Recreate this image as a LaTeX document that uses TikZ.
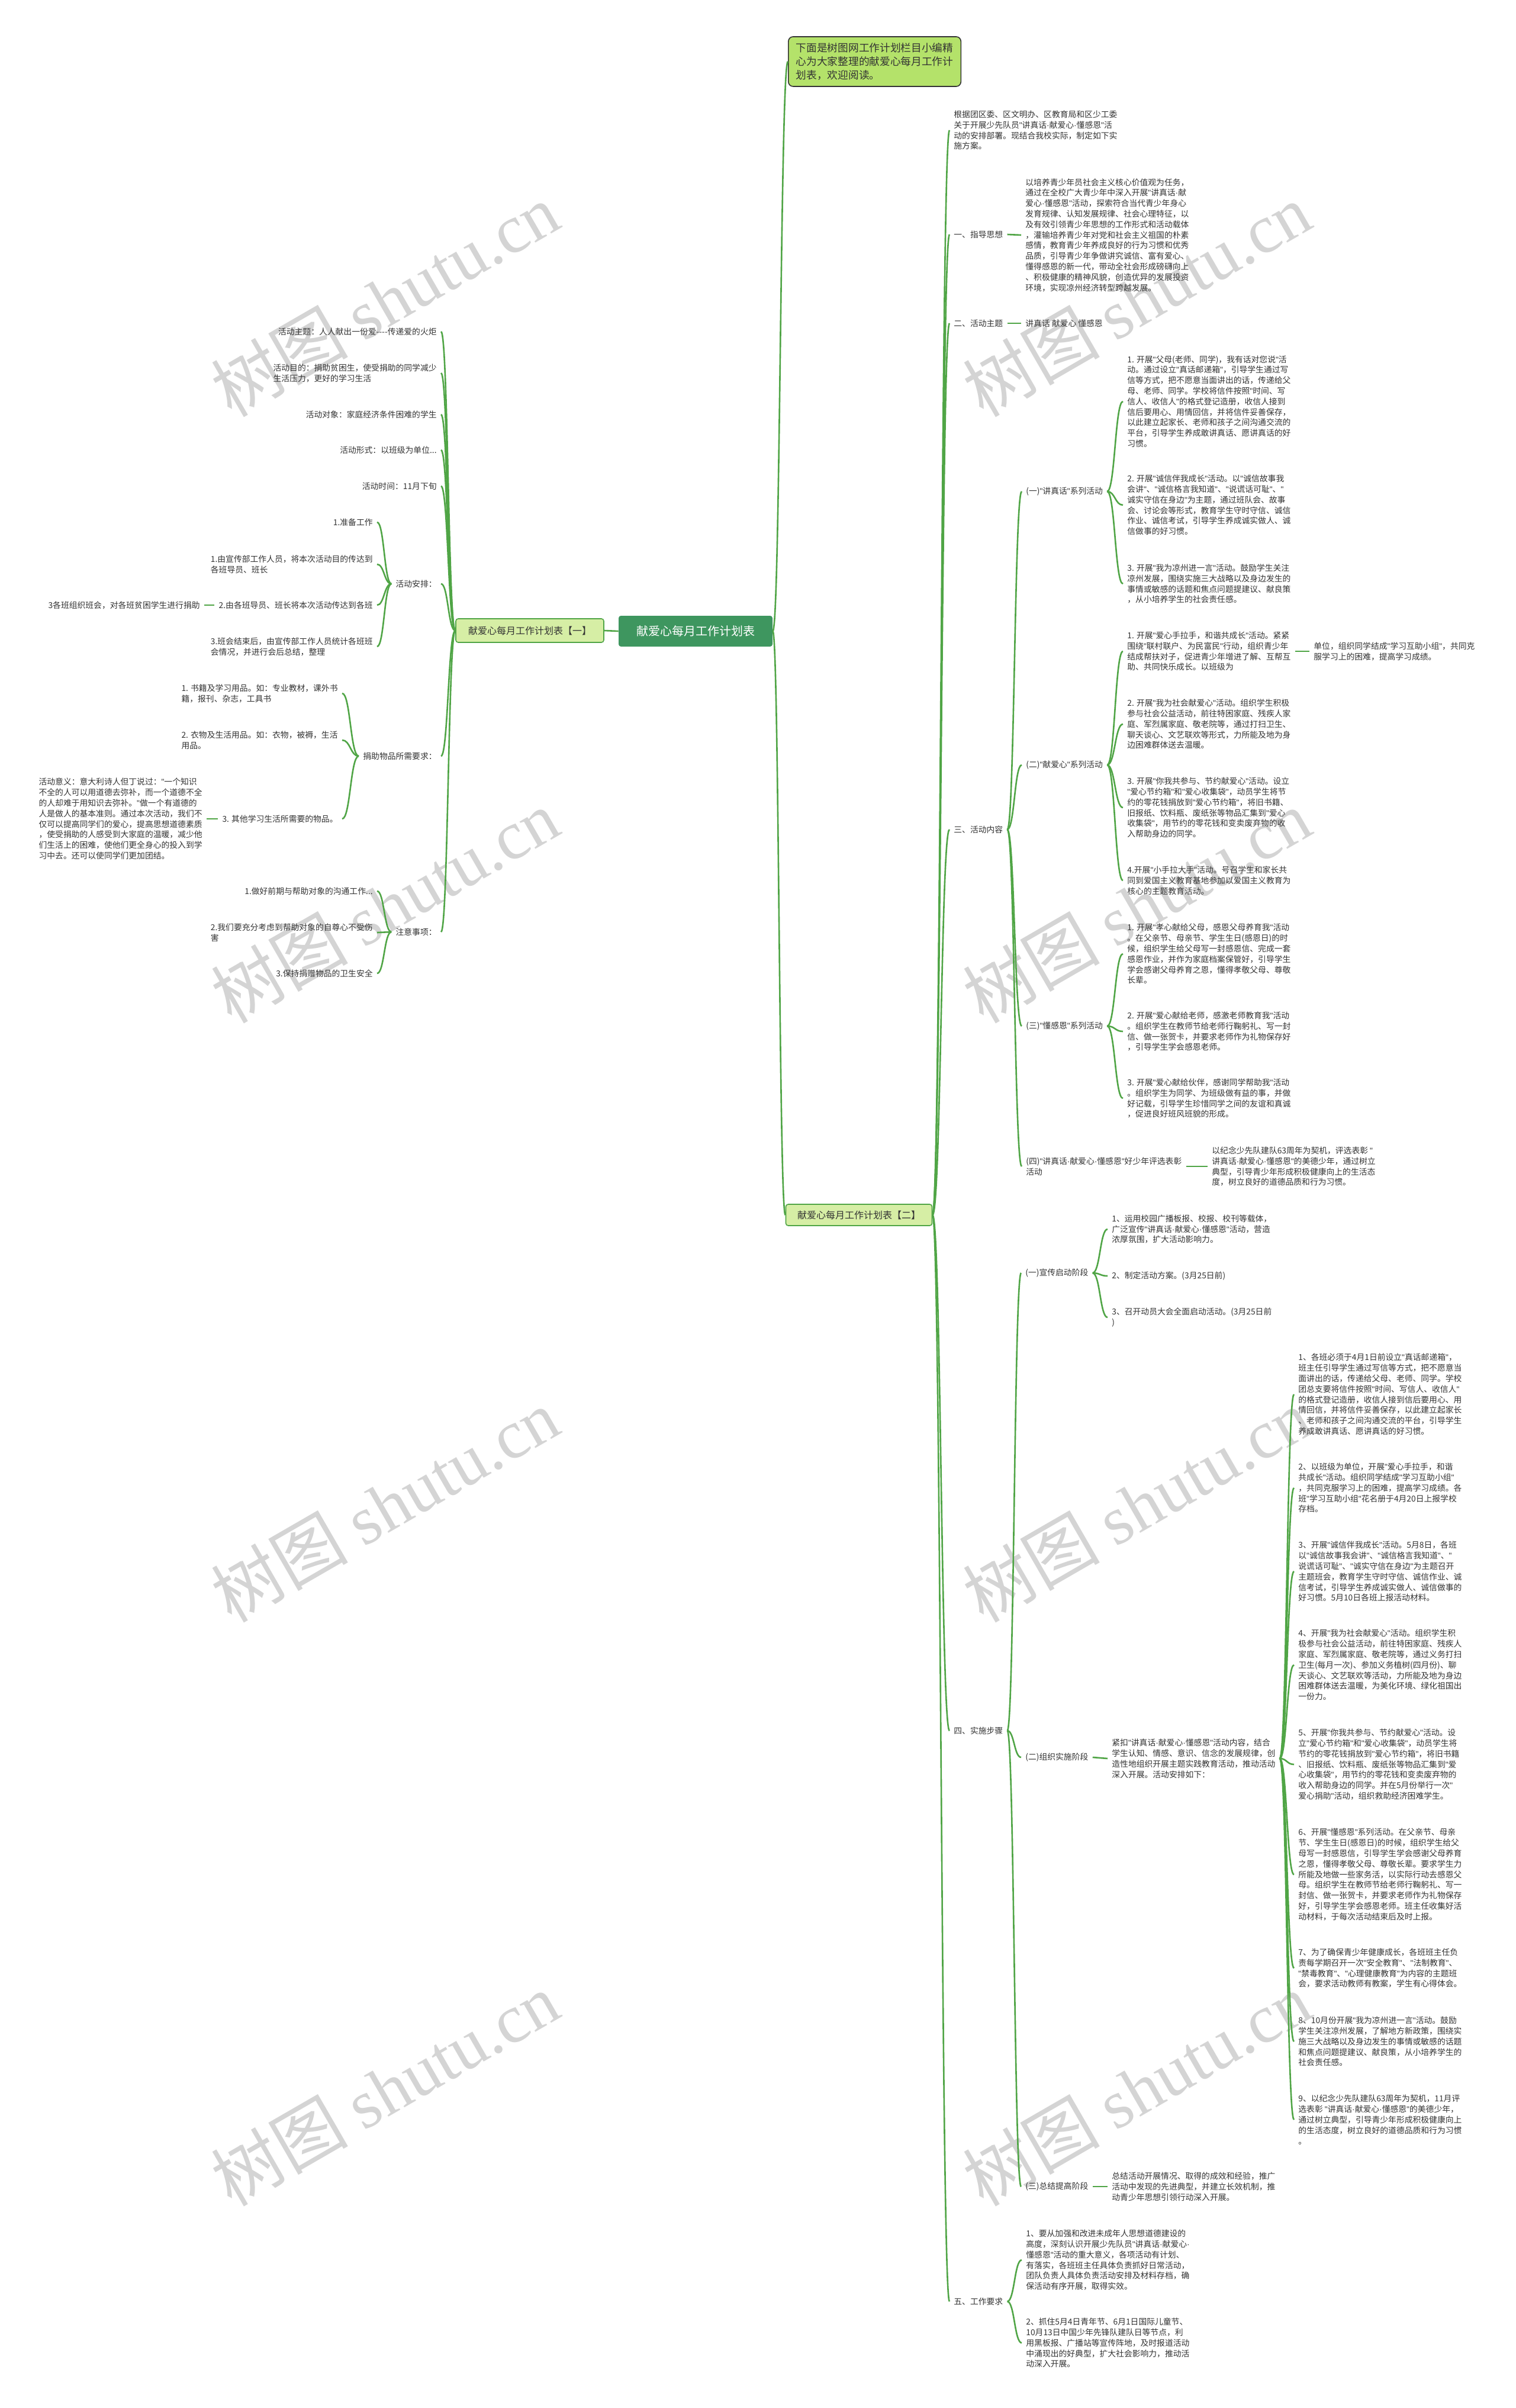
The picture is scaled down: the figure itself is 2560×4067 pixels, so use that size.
\documentclass[tikz,border=0pt]{standalone}
\usepackage{fontspec}
\setmainfont{Noto Sans CJK SC}
\newfontfamily\wmserif{Liberation Serif}
\newfontfamily\latinf{Liberation Sans}
\usetikzlibrary{calc}
\definecolor{lineg}{RGB}{80,165,70}
\definecolor{txt}{RGB}{51,51,51}
\definecolor{rootfill}{RGB}{62,150,95}
\definecolor{lonefill}{RGB}{214,238,165}
\definecolor{topfill}{RGB}{180,226,106}
\tikzset{
  conn/.style={draw=lineg, line width=1.3pt},
  leaf/.style={font=\fontsize{6.9pt}{8.9pt}\selectfont, text=txt, align=left, inner xsep=3.5pt, inner ysep=1pt},
  rleaf/.style={leaf, anchor=west},
  lleaf/.style={leaf, anchor=east},
  wmark/.style={rotate=30, text=black!17, font=\fontsize{58pt}{58pt}\selectfont},
}
\newcommand\link[2]{\path ($(#1)!0.5!(#2)$) coordinate (mm);
  \draw[conn] (#1) .. controls (#1 -| mm) and (#2 -| mm) .. (#2);}
\newcommand\dsh{-\kern0pt-\kern0pt-\kern0pt-}
{\catcode`\"=\active \gdef"{{\latinf\char34}}}
{\catcode`\·=\active \gdef·{{\latinf\char183}}}
\begin{document}
\catcode`\"=\active
\catcode`\·=\active
\begin{tikzpicture}[x=0.5pt,y=-0.5pt]
\useasboundingbox (0,0) rectangle (2560,4067);
\fill[white] (0,0) rectangle (2560,4067);
% watermarks
\foreach \wx/\wy in {650/506,1920/506,650/1530,1920/1530,650/2542,1920/2542,650/3528,1920/3528}
  \node[wmark] at (\wx,\wy) {树图 {\wmserif shutu.cn}};
% main nodes
\node[fill=rootfill, text=white, rounded corners=2pt, minimum width=130pt, minimum height=26pt,
  font=\fontsize{10pt}{12pt}\selectfont] (root) at (1175,1066) {献爱心每月工作计划表};
\node[fill=topfill, draw=black!80, line width=0.8pt, rounded corners=4pt, anchor=west, align=left,
  text=txt, inner xsep=6.5pt, inner ysep=5pt, minimum height=42pt,
  font=\fontsize{8.85pt}{11.5pt}\selectfont] (top) at (1331,104)
  {下面是树图网工作计划栏目小编精\\心为大家整理的献爱心每月工作计\\划表，欢迎阅读。};
\node[fill=lonefill, draw=lineg, line width=0.8pt, rounded corners=2pt, minimum width=125pt, minimum height=20pt,
  text=txt, font=\fontsize{8pt}{10pt}\selectfont] (L1) at (895,1065) {献爱心每月工作计划表【一】};
\node[fill=lonefill, draw=lineg, line width=0.8pt, rounded corners=2pt, minimum width=123.5pt, minimum height=18pt,
  text=txt, font=\fontsize{8pt}{10pt}\selectfont] (R1) at (1451,2052) {献爱心每月工作计划表【二】};
\draw[conn] (root.west) -- (L1.east);
\link{root.east}{top.west}
\link{root.east}{R1.west}

% ===== right branch =====
\node[rleaf] (intro) at (1604,220) {根据团区委、区文明办、区教育局和区少工委\\关于开展少先队员"讲真话·献爱心·懂感恩"活\\动的安排部署。现结合我校实际，制定如下实\\施方案。};
\node[rleaf] (s1) at (1604,396) {一、指导思想};
\node[rleaf] (s1t) at (1725,397) {以培养青少年员社会主义核心价值观为任务，\\通过在全校广大青少年中深入开展"讲真话·献\\爱心·懂感恩"活动，探索符合当代青少年身心\\发育规律、认知发展规律、社会心理特征，以\\及有效引领青少年思想的工作形式和活动载体\\，灌输培养青少年对党和社会主义祖国的朴素\\感情，教育青少年养成良好的行为习惯和优秀\\品质，引导青少年争做讲究诚信、富有爱心、\\懂得感恩的新一代，带动全社会形成磅礴向上\\、积极健康的精神风貌，创造优异的发展投资\\环境，实现凉州经济转型跨越发展。};
\node[rleaf] (s2) at (1604,546) {二、活动主题};
\node[rleaf] (s2t) at (1725,546) {讲真话 献爱心 懂感恩};
\node[rleaf] (s3) at (1604,1401) {三、活动内容};
\node[rleaf] (s4) at (1604,2923) {四、实施步骤};
\node[rleaf] (s5) at (1604,3887) {五、工作要求};
\foreach \n in {intro,s1,s2,s3,s4,s5} {\link{R1.east}{\n.west}}
\draw[conn] (s1.east) -- (s1t.west);
\draw[conn] (s2.east) -- (s2t.west);

% 三
\node[rleaf] (a1) at (1726,830) {(一)"讲真话"系列活动};
\node[rleaf] (a1i1) at (1897,678) {1. 开展"父母(老师、同学)，我有话对您说"活\\动。通过设立"真话邮递箱"，引导学生通过写\\信等方式，把不愿意当面讲出的话，传递给父\\母、老师、同学。学校将信件按照"时间、写\\信人、收信人"的格式登记造册，收信人接到\\信后要用心、用情回信，并将信件妥善保存，\\以此建立起家长、老师和孩子之间沟通交流的\\平台，引导学生养成敢讲真话、愿讲真话的好\\习惯。};
\node[rleaf] (a1i2) at (1897,853) {2. 开展"诚信伴我成长"活动。以"诚信故事我\\会讲"、"诚信格言我知道"、"说谎话可耻"、"\\诚实守信在身边"为主题，通过班队会、故事\\会、讨论会等形式，教育学生守时守信、诚信\\作业、诚信考试，引导学生养成诚实做人、诚\\信做事的好习惯。};
\node[rleaf] (a1i3) at (1897,986) {3. 开展"我为凉州进一言"活动。鼓励学生关注\\凉州发展，围绕实施三大战略以及身边发生的\\事情或敏感的话题和焦点问题提建议、献良策\\，从小培养学生的社会责任感。};
\node[rleaf] (a2) at (1726,1292) {(二)"献爱心"系列活动};
\node[rleaf] (a2i1) at (1897,1100) {1. 开展"爱心手拉手，和谐共成长"活动。紧紧\\围绕"联村联户、为民富民"行动，组织青少年\\结成帮扶对子，促进青少年增进了解、互帮互\\助、共同快乐成长。以班级为};
\node[rleaf] (a2i1x) at (2212,1100) {单位，组织同学结成"学习互助小组"，共同克\\服学习上的困难，提高学习成绩。};
\node[rleaf] (a2i2) at (1897,1223) {2. 开展"我为社会献爱心"活动。组织学生积极\\参与社会公益活动，前往特困家庭、残疾人家\\庭、军烈属家庭、敬老院等，通过打扫卫生、\\聊天谈心、文艺联欢等形式，力所能及地为身\\边困难群体送去温暖。};
\node[rleaf] (a2i3) at (1897,1364) {3. 开展"你我共参与、节约献爱心"活动。设立\\"爱心节约箱"和"爱心收集袋"，动员学生将节\\约的零花钱捐放到"爱心节约箱"，将旧书籍、\\旧报纸、饮料瓶、废纸张等物品汇集到"爱心\\收集袋"，用节约的零花钱和变卖废弃物的收\\入帮助身边的同学。};
\node[rleaf] (a2i4) at (1897,1487) {4.开展"小手拉大手"活动。号召学生和家长共\\同到爱国主义教育基地参加以爱国主义教育为\\核心的主题教育活动。};
\node[rleaf] (a3) at (1726,1733) {(三)"懂感恩"系列活动};
\node[rleaf] (a3i1) at (1897,1611) {1. 开展"孝心献给父母，感恩父母养育我"活动\\。在父亲节、母亲节、学生生日(感恩日)的时\\候，组织学生给父母写一封感恩信、完成一套\\感恩作业，并作为家庭档案保管好，引导学生\\学会感谢父母养育之恩，懂得孝敬父母、尊敬\\长辈。};
\node[rleaf] (a3i2) at (1897,1742) {2. 开展"爱心献给老师，感激老师教育我"活动\\。组织学生在教师节给老师行鞠躬礼、写一封\\信、做一张贺卡，并要求老师作为礼物保存好\\，引导学生学会感恩老师。};
\node[rleaf] (a3i3) at (1897,1855) {3. 开展"爱心献给伙伴，感谢同学帮助我"活动\\。组织学生为同学、为班级做有益的事，并做\\好记载，引导学生珍惜同学之间的友谊和真诚\\，促进良好班风班貌的形成。};
\node[rleaf] (a4) at (1726,1970) {(四)"讲真话·献爱心·懂感恩"好少年评选表彰\\活动};
\node[rleaf] (a4t) at (2040,1970) {以纪念少先队建队63周年为契机，评选表彰 "\\讲真话·献爱心·懂感恩"的美德少年，通过树立\\典型，引导青少年形成积极健康向上的生活态\\度，树立良好的道德品质和行为习惯。};
\foreach \n in {a1,a2,a3,a4} {\link{s3.east}{\n.west}}
\foreach \n in {a1i1,a1i2,a1i3} {\link{a1.east}{\n.west}}
\foreach \n in {a2i1,a2i2,a2i3,a2i4} {\link{a2.east}{\n.west}}
\foreach \n in {a3i1,a3i2,a3i3} {\link{a3.east}{\n.west}}
\draw[conn] (a2i1.east) -- (a2i1x.west);
\draw[conn] (a4.east |- a4t.west) -- (a4t.west);

% 四
\node[rleaf] (b1) at (1725,2150) {(一)宣传启动阶段};
\node[rleaf] (b1i1) at (1871,2076) {1、运用校园广播板报、校报、校刊等载体，\\广泛宣传"讲真话·献爱心·懂感恩"活动，营造\\浓厚氛围，扩大活动影响力。};
\node[rleaf] (b1i2) at (1871,2155) {2、制定活动方案。(3月25日前)};
\node[rleaf] (b1i3) at (1871,2225) {3、召开动员大会全面启动活动。(3月25日前\\)};
\node[rleaf] (b2) at (1725,2968) {(二)组织实施阶段};
\node[rleaf] (b2t) at (1871,2970) {紧扣"讲真话·献爱心·懂感恩"活动内容，结合\\学生认知、情感、意识、信念的发展规律，创\\造性地组织开展主题实践教育活动，推动活动\\深入开展。活动安排如下：};
\node[rleaf] (b2i1) at (2186,2355) {1、各班必须于4月1日前设立"真话邮递箱"，\\班主任引导学生通过写信等方式，把不愿意当\\面讲出的话，传递给父母、老师、同学。学校\\团总支要将信件按照"时间、写信人、收信人"\\的格式登记造册，收信人接到信后要用心、用\\情回信，并将信件妥善保存，以此建立起家长\\、老师和孩子之间沟通交流的平台，引导学生\\养成敢讲真话、愿讲真话的好习惯。};
\node[rleaf] (b2i2) at (2186,2513) {2、以班级为单位，开展"爱心手拉手，和谐\\共成长"活动。组织同学结成"学习互助小组"\\，共同克服学习上的困难，提高学习成绩。各\\班"学习互助小组"花名册于4月20日上报学校\\存档。};
\node[rleaf] (b2i3) at (2186,2654) {3、开展"诚信伴我成长"活动。5月8日，各班\\以"诚信故事我会讲"、"诚信格言我知道"、"\\说谎话可耻"、"诚实守信在身边"为主题召开\\主题班会，教育学生守时守信、诚信作业、诚\\信考试，引导学生养成诚实做人、诚信做事的\\好习惯。5月10日各班上报活动材料。};
\node[rleaf] (b2i4) at (2186,2812) {4、开展"我为社会献爱心"活动。组织学生积\\极参与社会公益活动，前往特困家庭、残疾人\\家庭、军烈属家庭、敬老院等，通过义务打扫\\卫生(每月一次)、参加义务植树(四月份)、聊\\天谈心、文艺联欢等活动，力所能及地为身边\\困难群体送去温暖，为美化环境、绿化祖国出\\一份力。};
\node[rleaf] (b2i5) at (2186,2980) {5、开展"你我共参与、节约献爱心"活动。设\\立"爱心节约箱"和"爱心收集袋"，动员学生将\\节约的零花钱捐放到"爱心节约箱"，将旧书籍\\、旧报纸、饮料瓶、废纸张等物品汇集到"爱\\心收集袋"，用节约的零花钱和变卖废弃物的\\收入帮助身边的同学。并在5月份举行一次"\\爱心捐助"活动，组织救助经济困难学生。};
\node[rleaf] (b2i6) at (2186,3166) {6、开展"懂感恩"系列活动。在父亲节、母亲\\节、学生生日(感恩日)的时候，组织学生给父\\母写一封感恩信，引导学生学会感谢父母养育\\之恩，懂得孝敬父母、尊敬长辈。要求学生力\\所能及地做一些家务活，以实际行动去感恩父\\母。组织学生在教师节给老师行鞠躬礼、写一\\封信、做一张贺卡，并要求老师作为礼物保存\\好，引导学生学会感恩老师。班主任收集好活\\动材料，于每次活动结束后及时上报。};
\node[rleaf] (b2i7) at (2186,3324) {7、为了确保青少年健康成长，各班班主任负\\责每学期召开一次"安全教育"、"法制教育"、\\"禁毒教育"、"心理健康教育"为内容的主题班\\会，要求活动教师有教案，学生有心得体会。};
\node[rleaf] (b2i8) at (2186,3448) {8、10月份开展"我为凉州进一言"活动。鼓励\\学生关注凉州发展，了解地方新政策，围绕实\\施三大战略以及身边发生的事情或敏感的话题\\和焦点问题提建议、献良策，从小培养学生的\\社会责任感。};
\node[rleaf] (b2i9) at (2186,3580) {9、以纪念少先队建队63周年为契机，11月评\\选表彰 "讲真话·献爱心·懂感恩"的美德少年，\\通过树立典型，引导青少年形成积极健康向上\\的生活态度，树立良好的道德品质和行为习惯\\。};
\node[rleaf] (b3) at (1725,3693) {(三)总结提高阶段};
\node[rleaf] (b3t) at (1871,3693) {总结活动开展情况、取得的成效和经验，推广\\活动中发现的先进典型，并建立长效机制，推\\动青少年思想引领行动深入开展。};
\foreach \n in {b1,b2,b3} {\link{s4.east}{\n.west}}
\foreach \n in {b1i1,b1i2,b1i3} {\link{b1.east}{\n.west}}
\foreach \n in {b2i1,b2i2,b2i3,b2i4,b2i5,b2i6,b2i7,b2i8,b2i9} {\link{b2t.east}{\n.west}}
\draw[conn] (b2.east) -- (b2t.west);
\draw[conn] (b3.east) -- (b3t.west);

% 五
\node[rleaf] (s5i1) at (1726,3817) {1、要从加强和改进未成年人思想道德建设的\\高度，深刻认识开展少先队员"讲真话·献爱心·\\懂感恩"活动的重大意义，各项活动有计划、\\有落实，各班班主任具体负责抓好日常活动，\\团队负责人具体负责活动安排及材料存档，确\\保活动有序开展，取得实效。};
\node[rleaf] (s5i2) at (1726,3957) {2、抓住5月4日青年节、6月1日国际儿童节、\\10月13日中国少年先锋队建队日等节点，利\\用黑板报、广播站等宣传阵地，及时报道活动\\中涌现出的好典型，扩大社会影响力，推动活\\动深入开展。};
\foreach \n in {s5i1,s5i2} {\link{s5.east}{\n.west}}

% ===== left branch =====
\node[lleaf] (l1) at (745,560) {活动主题：人人献出一份爱\dsh 传递爱的火炬};
\node[lleaf] (l2) at (745,630) {活动目的：捐助贫困生，使受捐助的同学减少\\生活压力，更好的学习生活};
\node[lleaf] (l3) at (745,700) {活动对象：家庭经济条件困难的学生};
\node[lleaf] (l4) at (745,760) {活动形式：以班级为单位...};
\node[lleaf] (l5) at (745,821) {活动时间：11月下旬};
\node[lleaf] (l6) at (745,986) {活动安排：};
\node[lleaf] (l7) at (745,1277) {捐助物品所需要求：};
\node[lleaf] (l8) at (745,1574) {注意事项：};
\foreach \n in {l1,l2,l3,l4,l5,l6,l7,l8} {\link{L1.west}{\n.east}}
\node[lleaf] (l6a) at (637,882) {1.准备工作};
\node[lleaf] (l6b) at (637,953) {1.由宣传部工作人员，将本次活动目的传达到\\各班导员、班长};
\node[lleaf] (l6c) at (637,1022) {2.由各班导员、班长将本次活动传达到各班};
\node[lleaf] (l6cx) at (345,1022) {3各班组织班会，对各班贫困学生进行捐助};
\node[lleaf] (l6d) at (637,1092) {3.班会结束后，由宣传部工作人员统计各班班\\会情况，并进行会后总结，整理};
\foreach \n in {l6a,l6b,l6c,l6d} {\link{l6.west}{\n.east}}
\draw[conn] (l6c.west) -- (l6cx.east);
\node[lleaf] (l7a) at (578,1171) {1. 书籍及学习用品。如：专业教材，课外书\\籍，报刊、杂志，工具书};
\node[lleaf] (l7b) at (578,1250) {2. 衣物及生活用品。如：衣物，被褥，生活\\用品。};
\node[lleaf] (l7c) at (578,1383) {3. 其他学习生活所需要的物品。};
\node[lleaf] (l7cx) at (349,1383) {活动意义：意大利诗人但丁说过："一个知识\\不全的人可以用道德去弥补，而一个道德不全\\的人却难于用知识去弥补。"做一个有道德的\\人是做人的基本准则。通过本次活动，我们不\\仅可以提高同学们的爱心，提高思想道德素质\\，使受捐助的人感受到大家庭的温暖，减少他\\们生活上的困难，使他们更全身心的投入到学\\习中去。还可以使同学们更加团结。};
\foreach \n in {l7a,l7b,l7c} {\link{l7.west}{\n.east}}
\draw[conn] (l7c.west) -- (l7cx.east);
\node[lleaf] (l8a) at (637,1505) {1.做好前期与帮助对象的沟通工作...};
\node[lleaf] (l8b) at (637,1575) {2.我们要充分考虑到帮助对象的自尊心不受伤\\害};
\node[lleaf] (l8c) at (637,1644) {3.保持捐赠物品的卫生安全};
\foreach \n in {l8a,l8b,l8c} {\link{l8.west}{\n.east}}
\end{tikzpicture}
\end{document}
